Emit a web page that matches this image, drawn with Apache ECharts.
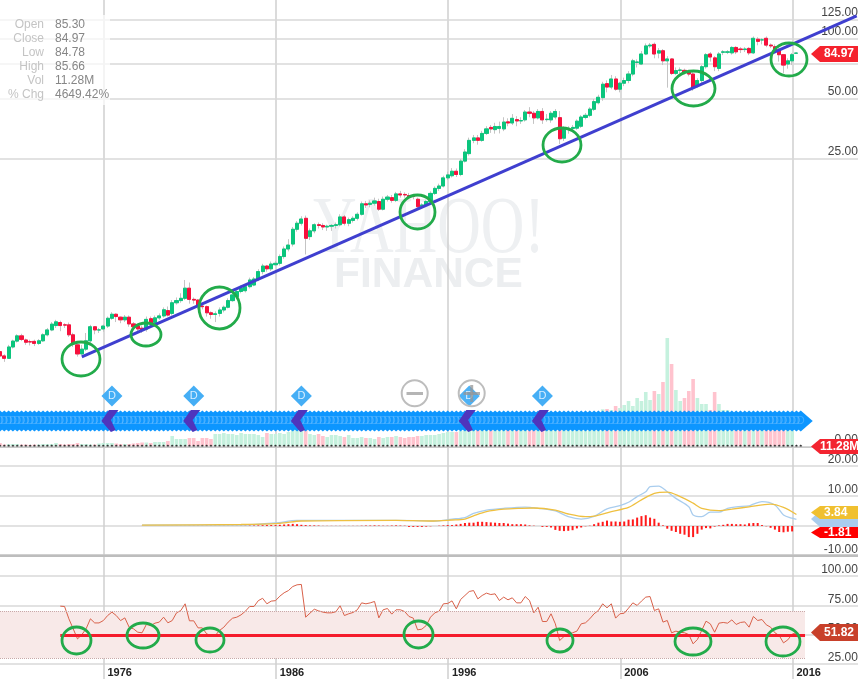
<!DOCTYPE html>
<html><head><meta charset="utf-8">
<style>html,body{margin:0;padding:0;background:#fff;overflow:hidden}#c{width:858px;height:679px}</style>
<script src="https://cdn.jsdelivr.net/npm/echarts@6/dist/echarts.min.js"></script>
</head><body><div id="c"></div>
<script>
const opens=[2.70,2.57,2.50,2.85,3.05,3.24,3.09,3.03,3.04,2.97,
3.06,3.28,3.47,3.65,3.78,3.68,3.68,3.28,2.92,2.63,
2.78,3.06,3.60,3.47,3.51,3.63,3.97,4.16,4.02,3.90,
4.02,3.72,3.63,3.54,3.50,3.95,3.78,3.99,4.08,4.34,
4.20,4.75,4.87,5.00,5.62,4.94,4.90,4.57,4.54,4.23,
4.15,4.20,4.37,4.51,4.87,5.10,5.41,5.46,5.72,5.83,
6.25,6.81,7.26,7.03,7.37,7.49,8.10,8.84,9.36,11.1,
11.9,12.6,10.2,10.9,11.7,11.6,11.4,11.5,11.6,11.7,
12.8,11.9,12.3,12.6,13.2,14.9,14.8,15.0,15.3,14.0,
15.7,16.0,15.5,16.7,16.6,16.4,16.3,15.7,14.5,14.7,
15.3,16.8,17.8,18.3,20.1,20.6,21.7,20.9,24.4,26.6,
31,31.9,31,33.6,36,35.1,35.6,35.4,38.4,37.9,
39.4,38.8,39.3,43,42.4,40.2,43.3,39.4,39.3,40.6,
40.3,31.8,35.3,35.6,35.7,36.5,40.4,41.4,44.4,47.9,
50.8,59.7,57.4,63,56,60,61.9,66.7,76.3,74.9,
84.1,92.3,94,85,87.3,77.7,79.4,67.2,69.6,69.6,
68.2,66.7,58.3,61.9,72.6,84.1,80.4,71.2,85.8,85.8,
85.2,90.7,89.1,88.5,89.7,85.2,99.7,99,100.8,93.2,
91.5,88,83.4,74.9,77.7,84.85];
const closes=[2.57,2.50,2.85,3.05,3.24,3.11,3.01,3.02,2.97,3.06,
3.28,3.47,3.71,3.81,3.65,3.67,3.28,2.95,2.63,2.78,
3.06,3.60,3.47,3.47,3.63,3.97,4.16,4.05,3.90,4.02,
3.72,3.60,3.51,3.47,3.92,3.75,3.99,4.08,4.38,4.12,
4.75,4.87,5.00,5.62,4.94,4.90,4.57,4.54,4.23,4.15,
4.18,4.37,4.51,4.87,5.20,5.41,5.62,5.72,6.18,6.25,
6.81,7.26,7.03,7.43,7.49,8.10,8.84,9.25,11.1,11.9,
12.5,10.0,10.9,11.7,11.6,11.4,11.5,11.6,11.7,12.8,
11.9,12.4,12.6,13.2,14.9,14.7,15.0,15.4,14.0,15.7,
16.1,15.5,16.7,16.5,16.5,16.1,16.2,14.4,14.7,15.3,
16.8,17.8,18.3,20.1,20.8,21.7,20.9,24.4,27.1,31,
31.9,31,33.6,35.4,35.4,36.4,36.4,38.3,37.9,40,
38.8,39,43,42.4,40.2,43.3,39.3,39.6,42.4,43.3,
31.6,35.6,35.6,36,38.7,40.6,41.4,44.5,48.5,51,
59.3,57.4,63,56,60,61.9,66.7,77.7,76.7,84.1,
92.3,93.2,84.1,87.3,77.7,79.4,67.2,69.4,69.9,68.2,
66.7,57,61.9,72.6,83.4,81.2,72.6,84.1,86.2,86.2,
90.7,86.2,88.5,89.1,85.2,100.8,97.3,99,93.2,92.3,
88,83.4,74,77.7,83.4,84.97];
const highs=[2.74,2.62,2.92,3.1,3.3,3.32,3.14,3.1,3.1,3.12,
3.34,3.55,3.8,3.9,3.86,3.75,3.78,3.36,3.0,2.92,
3.35,3.68,3.62,3.55,3.7,4.05,4.26,4.2,4.05,4.12,
4.1,3.8,3.7,3.65,4.05,4.05,4.1,4.2,4.5,4.55,
4.9,5.05,5.3,6.18,6.0,5.05,4.95,4.65,4.6,4.3,
4.3,4.5,4.6,5.0,5.35,5.55,5.8,5.9,6.35,6.4,
7.0,7.45,7.35,7.65,7.7,8.3,9.1,9.9,11.4,12.2,
12.9,13.0,11.2,11.9,12.0,11.9,11.7,11.8,12,13.2,
13.1,12.7,12.9,13.5,15.3,15.4,15.5,16,15.8,16.2,
16.5,16.5,17.1,17.3,17.0,16.9,16.7,16,15.0,15.6,
17.2,18.2,18.8,20.6,21.6,22.5,22.4,25,28,32,
33,33,34.6,36.5,37,38,38.5,40.5,40,42,
41,40.5,44,45.5,43.5,44.5,45,42,43.5,44.5,
43.5,36.5,36.5,37,39.5,41.5,42.5,45.5,50,52.5,
61,62,66,65,61,64,69,79.5,79,87,
95,95.5,96,90,89,82,80,72,72,71,
70,68,63.5,74,85,86,82,86,88,88,
92,92,91,91,91,103,102,101,103,95,
94,90,84,80,85,85.66];
const lows=[2.45,2.40,2.48,2.8,3.0,3.05,2.92,2.9,2.88,2.92,
3.02,3.22,3.42,3.55,3.42,3.55,3.2,2.85,2.55,2.6,
2.72,2.98,3.3,3.35,3.4,3.55,3.9,3.8,3.75,3.8,
3.6,3.45,3.4,3.35,3.4,3.65,3.7,3.9,4.0,4.05,
4.1,4.65,4.75,4.9,4.7,4.7,4.4,4.4,4.05,3.95,
3.8,4.05,4.25,4.45,4.8,5.0,5.3,5.35,5.6,5.75,
6.1,6.6,6.8,6.85,7.25,7.3,7.9,8.6,9.1,10.8,
11.6,8.3,9.8,10.6,11.2,11.0,10.9,10.9,11.2,11.5,
11.6,11.5,12.0,12.3,13.0,14.2,14.3,14.6,13.7,13.8,
15.3,15.1,15.2,16,16,15.7,15.7,14,14.1,14.4,
15.0,16.5,17.3,18,19.6,20.2,20.3,20.5,24,26,
30,29.5,30.5,33,33.8,33.5,33.6,34.5,36.5,37,
36.5,37.5,38.5,40.5,37.5,39.5,37.5,38.5,38,39.5,
29.7,30.8,33.5,34.5,35,35.8,39.5,40.5,43.5,47,
49,54,56,55,54,58,60,65,72,74,
83,90,80,80,74,57,66,66,67,66.5,
65,55,57,60,71,77,69,69,83,84,
83.5,84,85,86,83,84,93,94,91,90,
86,77,67.4,71,74,84.78];
const volumesM=[150,75,100,100,100,75,75,50,75,75,
100,100,100,150,100,75,100,100,150,100,
100,75,75,125,150,150,150,125,100,100,
100,125,150,175,175,150,200,200,200,250,
500,350,350,350,400,400,250,400,400,350,
600,600,650,600,600,550,650,600,600,600,
550,450,650,600,600,650,600,700,800,900,
900,950,600,550,600,500,450,550,550,500,
450,550,400,400,450,400,400,350,450,400,
450,450,500,450,400,450,450,500,500,550,
550,550,600,650,700,700,700,750,800,950,
1000,1100,1050,1200,1300,1200,1350,1250,1200,1300,
1350,1250,1300,1400,1500,1350,1450,1500,1400,1500,
1650,1550,1500,1550,1600,1550,1500,1600,1650,1700,
1835,1850,1800,2000,1900,2050,2250,2000,2400,2250,
2700,2300,2750,2600,3200,5400,4100,2800,2250,2400,
2750,3350,2400,2100,2100,1800,2700,2100,1800,1800,
1500,1400,1350,1300,1250,1200,1200,1150,1100,1100,
1050,1000,1000,950,950,11.28];
const rsiStart=14;
const rsiValues=[74.3,74,63.5,55,46.4,50,55,63.5,60,60,62,66.3,69.2,66.3,62,64.3,56.4,55,52.1,51.6,
58.7,57.8,59.8,60.7,64.9,60.1,62,68.6,70.6,76.3,61.8,61.8,55.8,55.8,50.7,49.3,49.3,53.6,56.4,60.7,
64,64.9,66.9,70,74,74,79,81,76.3,78.6,79,82.8,85.7,87.6,
91,92.5,92.8,64.9,68.3,71.7,70.3,69.2,68.6,68.6,69.5,74.6,66.3,67.8,68.9,71.2,77.1,76.3,77.1,78.3,
64.3,71.2,72.3,67.5,71.2,71.2,69.7,65.5,64.1,54.1,54.7,57.8,64.9,68.6,70,76.3,76.6,78.8,72,80,
83.4,86.8,87.6,80.5,83.4,85.4,84.2,84.8,79.1,82,79.7,81.4,77.1,77.1,82.5,79.1,68.6,73.4,61.2,61.2,
67.8,59.2,45,48.4,50.7,51.6,53,
59.2,60.1,63.5,67.8,70.6,76.3,72.9,76.3,64.1,67.8,68.3,72.6,77.1,74.9,78.6,82,82.5,70.6,72,60.7,
62.1,51.6,53,52.1,51.6,50.1,42.2,45.9,53.6,61.5,59.2,52.1,59.8,60.4,59.8,62.6,58.7,60.4,60.9,56.4,
65.5,62.1,62.9,58.4,56.4,51.6,49.3,43,45.6,50.4,51.82];
const macdIdx=[33,56,64,69,92,98,101,105,108,110,113,117,122,125,129,132,135,138,141,144,146,148,150,151,153,155,157,160,161,163,165,167,169,171,174,175,177,180,182,184,185];
const macdVals=[0.3,0.33,1.0,1.9,1.9,1.8,1.67,2.3,2.8,4.2,5.3,5.9,6.3,5.9,5,3.1,2.3,3.2,5.7,6.8,7.9,9.8,11.4,13.1,13.3,11.4,9.2,6.4,3.7,3.1,4.6,4.6,5.9,6.4,6.7,7.3,8.1,7,3.7,2.6,2.23];
const signalIdx=[33,56,65,70,92,100,105,108,110,113,117,121,124,129,132,136,138,142,146,149,152,155,158,161,163,167,170,174,179,182,185];
const signalVals=[0.3,0.5,0.9,1.67,1.9,1.67,2,2.3,3.4,4.8,5.6,5.9,6,5.3,4,3.1,3.3,4.8,6.2,8.7,10.9,11.3,9.8,7.6,5.9,5.1,5.6,6.4,7.3,6.2,3.84];
const histStart=33;
const histVals=[0.03,0.03,0.03,0.03,0.04,0.04,0.05,0.05,0.05,0.05,0.05,
0.1,0.1,0.1,0.1,0.1,0.1,0.1,0.1,0.1,0.1,0.1,0.1,
0.15,0.15,0.2,0.2,0.2,0.25,0.3,0.3,0.3,0.4,0.5,0.6,0.7,0.6,0.4,0.3,0.2,0.2,0.15,
0.05,0.05,0.05,0.05,0.05,0.05,0.05,0.05,0.05,
0.1,0.15,0.15,0.2,0.15,0.1,0.1,0.15,0.2,0.15,0.1,
-0.3,-0.3,-0.3,-0.3,-0.2,-0.1,0,0.1,0.2,0.3,0.3,
0.5,0.7,1.0,1.1,1.1,1.4,1.4,1.3,1.2,1.1,1.0,1,0.8,0.6,0.6,0.6,0.5,0.2,0.1,0,-0.3,-0.3,-0.5,
-1.3,-1.6,-1.7,-1.6,-1.4,-0.8,-0.5,-0.1,0.1,0.6,1.1,1.4,1.8,1.5,1.5,1.4,1.5,
2.1,2.2,2.8,3.3,3.6,2.8,2.4,1.1,0.2,-0.9,-1.6,-2,-2.6,-2.9,-3.7,-3.7,-2.6,-1.2,-0.7,-0.8,-0.2,0.2,0.4,0.7,0.7,0.6,0.6,0.5,0.9,1.0,1.0,0.3,-0.1,-0.6,-1.2,-2.0,-2.1,-1.9,-1.81];
const priceTicks=[125,100,75,50,25];
const trendIdx=[19,199], trendVals=[2.54,130.5];
const rsiBandIdx=[0,187], rsiBand=[70,30];
const rsiRefIdx=[14,187], rsiRef=[49.3,49.3];
const eventIdx=[26,45,70,109,126];
const bandLastIdx=186;
const yearBase=1966;
const yearTicks={min:0,max:60,step:10};
const infoRows=[['Open','85.30'],['Close','84.97'],['Low','84.78'],['High','85.66'],['Vol','11.28M'],['% Chg','4649.42%']];
const circles=[[81,359,19,17],[146,334.5,15,11.5],[219.5,308,20.5,21],[417.5,212,17.5,17],[562,145,19,17],[693.5,88.5,21.5,17.5],[789,59.5,18,16.5],
[76.5,640.5,14.5,13.5],[143,635.5,16,12.5],[210,640,14,12],[418.5,634.5,14.5,13.5],[560,640.5,13,11.5],[693,641.5,18,13.5],[783,641.5,17,14.5]];
const tags=[['84.97','#f5222d',46,62],['','#a9cdee',511,527],['3.84','#f0c030',506,519],['-1.81','#ff0000',527,538],['51.82','#c8402a',624,641],['11.28M','#f32430',439,454]];

const categories=[];
for(let i=0;i<200;i++){categories.push((1970+Math.floor(i/4))+'Q'+(i%4+1));}
const bandW=4.305, gridLeft=-2.15, gridW=200*bandW;
const up=closes.map((c,i)=>c>=opens[i]);
const full=opens.map((o,i)=>[o,closes[i],lows[i],highs[i]]);
const bodies=opens.map((o,i)=>[o,closes[i],Math.min(o,closes[i]),Math.max(o,closes[i])]);
const rsiData=rsiValues.map((v,i)=>[i+rsiStart,v]);
const histData=histVals.map((v,i)=>[i+histStart,v]);
const grids=[[0,446],[330,116],[447,109],[555,109],[381,80]].map(g=>({left:gridLeft,top:g[0],width:gridW,height:g[1],outerBoundsMode:'none'}));
grids.push({left:103.5-172.25,top:0,width:60*17.225,height:664,outerBoundsMode:'none'});
const hiddenCat=g=>({type:'category',gridIndex:g,data:categories,boundaryGap:true,show:false});
const labelStyle={inside:true,margin:1,color:'#444',fontSize:12,fontFamily:'Liberation Sans',verticalAlign:'bottom'};
const gridLine={show:true,lineStyle:{color:'#d9d9d9',width:1.5}};
const bandIdx=[];for(let i=0;i<=bandLastIdx;i++)bandIdx.push([i,50]);
const baseIdx=[];for(let i=0;i<=bandLastIdx;i++)baseIdx.push([i,0]);
const tagGraphics=[];
tags.forEach(t=>{
 const m=(t[2]+t[3])/2;
 tagGraphics.push({type:'polygon',z:120,shape:{points:[[811,m],[820,t[2]],[858,t[2]],[858,t[3]],[820,t[3]]]},style:{fill:t[1]}});
 if(t[0])tagGraphics.push({type:'text',z:121,x:t[0].length>5?820:824,y:m,style:{text:t[0],fill:'#fff',font:'bold 12px "Liberation Sans"',textVerticalAlign:'middle'}});
});
const ringGraphics=[
 {type:'circle',z:110,shape:{cx:414.7,cy:393.3,r:13},style:{fill:'rgba(255,255,255,0.2)',stroke:'#bdbdbd',lineWidth:2}},
 {type:'rect',z:111,shape:{x:406.5,y:392,width:16.5,height:3},style:{fill:'#b5b5b5'}},
 {type:'circle',z:110,shape:{cx:471.7,cy:393.3,r:13},style:{fill:'rgba(255,255,255,0.05)',stroke:'#bdbdbd',lineWidth:2}},
 {type:'rect',z:111,shape:{x:463.5,y:392,width:16.5,height:3},style:{fill:'rgba(150,150,150,0.75)'}},
 {type:'rect',z:111,shape:{x:470.2,y:385,width:3,height:17},style:{fill:'rgba(150,150,150,0.75)'}}
];
const separators=[
 {type:'rect',z:6,shape:{x:0,y:554.5,width:858,height:2.5},style:{fill:'#bdbdbd'}},
 {type:'rect',z:6,shape:{x:0,y:446.5,width:858,height:1.5},style:{fill:'#c8c8c8'}}
];
const infoGraphics=[{type:'rect',z:90,shape:{x:0,y:15,width:110,height:90},style:{fill:'rgba(255,255,255,0.7)'}}];
infoRows.forEach((r,i)=>{
 infoGraphics.push({type:'text',z:91,x:44,y:24.3+14*i,style:{text:r[0],fill:'#c4c4c4',align:'right',textAlign:'right',textVerticalAlign:'middle',font:'12px "Liberation Sans"'}});
 infoGraphics.push({type:'text',z:91,x:55,y:24.3+14*i,style:{text:r[1],fill:'#868686',textVerticalAlign:'middle',font:'12px "Liberation Sans"'}});
});
const circleGraphics=circles.map(c=>({type:'ellipse',z:100,shape:{cx:c[0],cy:c[1],rx:c[2],ry:c[3]},style:{fill:'none',stroke:'#22ab4a',lineWidth:2.8}}));
const watermark=[
 {type:'text',z:0,x:313,y:191,scaleX:0.755,style:{text:'YAHOO!',fill:'#eef0f2',font:'80px "Liberation Serif"'}},
 {type:'text',z:0,x:334,y:254,style:{text:'FINANCE',fill:'#eceef0',font:'bold 42.5px "Liberation Sans"'}}
];
const chart=echarts.init(document.getElementById('c'),null,{renderer:'canvas'});
chart.setOption({
 animation:false,backgroundColor:'#fff',
 grid:grids,
 xAxis:[hiddenCat(0),hiddenCat(1),hiddenCat(2),hiddenCat(3),hiddenCat(4),
  {type:'value',gridIndex:5,min:yearTicks.min,max:yearTicks.max,interval:yearTicks.step,position:'bottom',
   axisLine:{show:false},axisTick:{show:true,length:15,lineStyle:{color:'#cfcfcf',width:1.5}},
   splitLine:{show:true,lineStyle:{color:'#cfcfcf',width:1.5}},
   axisLabel:{margin:3,color:'#222',fontWeight:'bold',fontSize:11,fontFamily:'Liberation Sans',align:'left',padding:[0,0,0,4],formatter:v=>String(yearBase+v),showMinLabel:true,showMaxLabel:false}}],
 yAxis:[
  {type:'log',logBase:2,gridIndex:0,min:50*Math.pow(2,(99-446)/60),max:50*Math.pow(2,99/60),show:false,splitLine:{show:false}},
  {type:'value',gridIndex:1,min:0,max:5800,interval:5800,position:'right',axisLine:{show:false},axisTick:{show:false},splitLine:{show:false},
   axisLabel:Object.assign({},labelStyle,{formatter:v=>v===0?'0.00':''})},
  {type:'value',gridIndex:2,min:-10,max:26.33,interval:10,position:'right',axisLine:{show:false},axisTick:{show:false},splitLine:gridLine,
   axisLabel:Object.assign({},labelStyle,{showMaxLabel:false,formatter:v=>v===0?'':v.toFixed(2)})},
  {type:'value',gridIndex:3,min:25,max:117.9,interval:25,position:'right',axisLine:{show:false},axisTick:{show:false},splitLine:gridLine,
   axisLabel:Object.assign({},labelStyle,{showMaxLabel:false,formatter:v=>v.toFixed(2)})},
  {type:'value',gridIndex:4,min:0,max:100,show:false,splitLine:{show:false}},
  {type:'value',gridIndex:5,min:0,max:1,show:false,splitLine:{show:false}}
 ],
 graphic:{elements:[...watermark,...separators,...infoGraphics,...circleGraphics,...ringGraphics,...tagGraphics]},
 series:[
  {type:'line',xAxisIndex:0,yAxisIndex:0,data:[],silent:true,z:1,showSymbol:false,
   markLine:{silent:true,symbol:'none',animation:false,z:1,
    lineStyle:{color:'#d9d9d9',width:1.5,type:'solid'},
    label:{show:true,position:'insideEndTop',distance:[1,1],color:'#444',fontSize:12,fontFamily:'Liberation Sans',formatter:p=>p.value===75?'':Number(p.value).toFixed(2)},
    data:priceTicks.map(v=>({yAxis:v}))}},
  {type:'candlestick',name:'wicks',xAxisIndex:0,yAxisIndex:0,data:full,z:3,barWidth:3.6,
   itemStyle:{color:'#c4c4c4',color0:'#c4c4c4',borderColor:'#c4c4c4',borderColor0:'#c4c4c4',borderWidth:1}},
  {type:'candlestick',name:'bodies',xAxisIndex:0,yAxisIndex:0,data:bodies,z:4,barWidth:3.6,
   itemStyle:{color:'#0bc57d',color0:'#f7103c',borderColor:'#0bc57d',borderColor0:'#f7103c',borderColorDoji:'#0bc57d',borderWidth:1}},
  {type:'line',name:'trend',xAxisIndex:0,yAxisIndex:0,data:trendIdx.map((x,i)=>[x,trendVals[i]]),showSymbol:false,z:6,
   lineStyle:{color:'#3f3fcf',width:3}},
  {type:'bar',name:'volume',xAxisIndex:1,yAxisIndex:1,data:volumesM,barWidth:3.6,z:2,
   itemStyle:{color:p=>up[p.dataIndex]?'#c5f1de':'#ffc3ce'}},
  {type:'scatter',name:'baseline',xAxisIndex:1,yAxisIndex:1,data:baseIdx,symbol:'diamond',symbolSize:3,z:5,itemStyle:{color:'#333',opacity:1}},
  {type:'line',name:'macd',xAxisIndex:2,yAxisIndex:2,data:macdIdx.map((x,i)=>[x,macdVals[i]]),smooth:0.3,showSymbol:false,z:4,lineStyle:{color:'#a9cdee',width:1.3}},
  {type:'line',name:'signal',xAxisIndex:2,yAxisIndex:2,data:signalIdx.map((x,i)=>[x,signalVals[i]]),smooth:0.3,showSymbol:false,z:5,lineStyle:{color:'#efc040',width:1.3}},
  {type:'bar',name:'hist',xAxisIndex:2,yAxisIndex:2,data:histData,barWidth:2,z:3,itemStyle:{color:'#ff1a1a'}},
  {type:'line',name:'rsiBand',xAxisIndex:3,yAxisIndex:3,data:[],z:1,silent:true,
   markArea:{silent:true,itemStyle:{color:'#f8e9e8'},data:[[{xAxis:rsiBandIdx[0],yAxis:rsiBand[0]},{xAxis:rsiBandIdx[1],yAxis:rsiBand[1]}]]},
   markLine:{silent:true,symbol:'none',label:{show:false},lineStyle:{color:'#c9a8a8',width:1,type:'dotted'},
    data:rsiBand.map(v=>[{xAxis:rsiBandIdx[0],yAxis:v},{xAxis:rsiBandIdx[1],yAxis:v}])}},
  {type:'line',name:'rsi',xAxisIndex:3,yAxisIndex:3,data:rsiData,showSymbol:false,z:4,lineStyle:{color:'#d9614a',width:1}},
  {type:'line',name:'rsiRef',xAxisIndex:3,yAxisIndex:3,data:rsiRefIdx.map((x,i)=>[x,rsiRef[i]]),showSymbol:false,z:5,lineStyle:{color:'#f51c2c',width:3}},
  {type:'scatter',name:'dividendBand',xAxisIndex:4,yAxisIndex:4,data:bandIdx,symbol:'diamond',symbolSize:[24,21],z:7,
   itemStyle:{color:'#0d96ff',opacity:1},
   label:{show:true,position:'inside',formatter:'D',fontSize:11,color:'rgba(130,200,255,0.45)',fontFamily:'Liberation Sans'}},
  {type:'scatter',name:'chevrons',xAxisIndex:4,yAxisIndex:4,data:eventIdx.map(x=>[x,50]),z:8,
   symbol:'path://M8 0L18 0L10 10L15 20L10 22L0 11Z',symbolSize:[17,22],symbolOffset:[-2,0],itemStyle:{color:'#4f35bd',opacity:1}},
  {type:'scatter',name:'events',xAxisIndex:4,yAxisIndex:4,data:eventIdx.map(x=>[x,81.25]),symbol:'diamond',symbolSize:[21,21],z:9,
   itemStyle:{color:'#45aef5',opacity:1},
   label:{show:true,position:'inside',formatter:'D',fontSize:11,color:'#d8eeff',fontFamily:'Liberation Sans'}}
 ]
});
</script></body></html>
